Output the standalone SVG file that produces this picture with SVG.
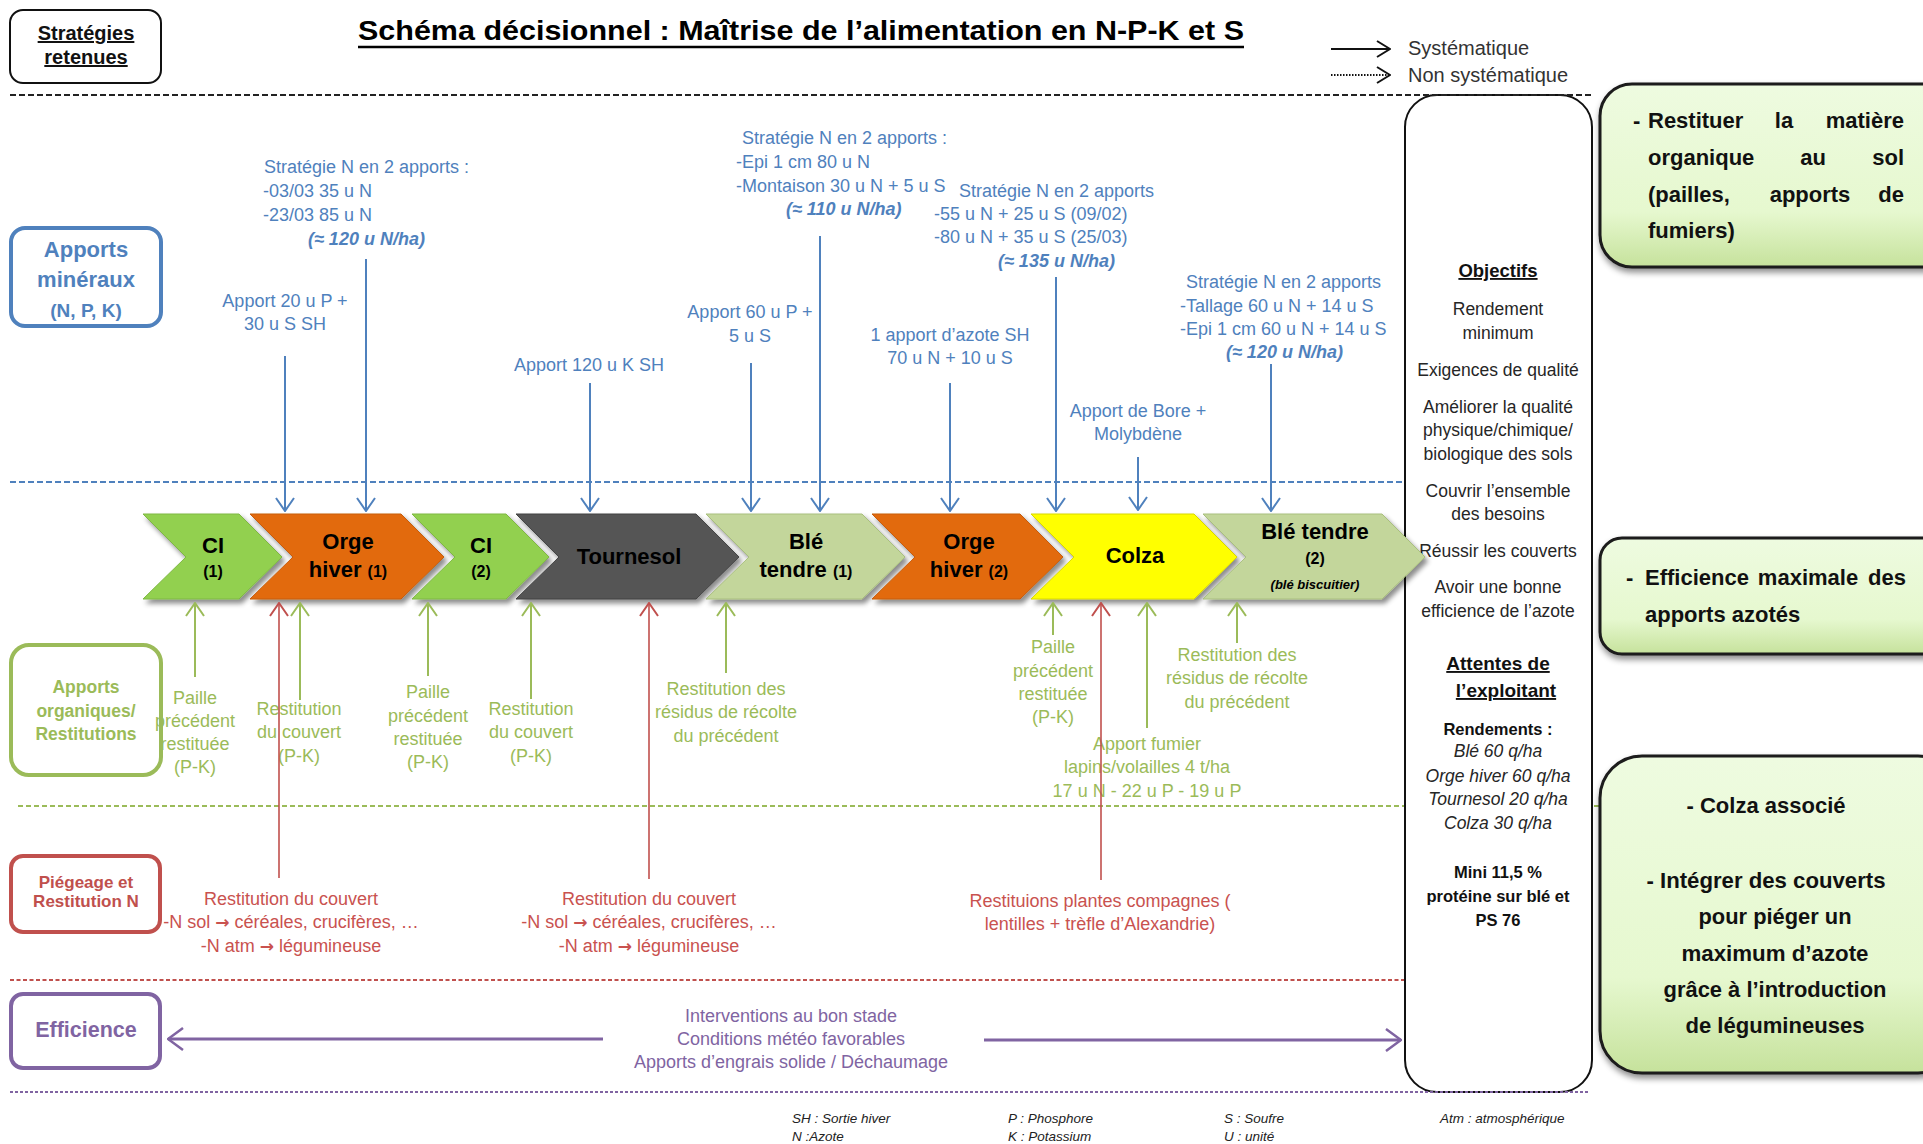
<svg xmlns="http://www.w3.org/2000/svg" width="1923" height="1144" viewBox="0 0 1923 1144">
<style>
  text { font-family: 'Liberation Sans', Arial, sans-serif; }
  .blue { fill:#4F81BD; font-size:18px; }
  .blueb { fill:#4F81BD; font-size:18px; font-weight:bold; font-style:italic; }
  .mid { text-anchor:middle; }
  .green { fill:#9BBB59; font-size:18px; text-anchor:middle; }
  .red { fill:#C9524F; font-size:18px; text-anchor:middle; }
  .arrowglyph { font-family:'DejaVu Sans', sans-serif; font-weight:bold; font-size:17px; }
  .purple { fill:#8064A2; font-size:18px; text-anchor:middle; }
  .obj { fill:#262626; font-size:17.5px; text-anchor:middle; }
  .objb { fill:#111; font-size:16.5px; font-weight:bold; text-anchor:middle; }
  .obji { fill:#262626; font-size:17.5px; font-style:italic; text-anchor:middle; }
  .head { fill:#111; font-weight:bold; text-anchor:middle; text-decoration:underline; }
  .chev { font-size:22px; font-weight:bold; text-anchor:middle; fill:#000; }
  .chevs { font-size:16px; }
  .chevi { font-size:13px; font-style:italic; }
  .cat { font-weight:bold; text-anchor:middle; }
  .gbox { font-size:22px; font-weight:bold; fill:#111; }
  .note { font-size:13.5px; font-style:italic; fill:#222; }
  .legend { font-size:20px; fill:#333; }
  .dash { fill:none; stroke-width:2; }
  .arB { stroke:#4F81BD; stroke-width:2; fill:none; marker-end:url(#ahBlue); }
  .arG { stroke:#9BBB59; stroke-width:2; fill:none; marker-end:url(#ahGreen); }
  .arR { stroke:#C0504D; stroke-width:1.6; fill:none; marker-end:url(#ahRed); }
  .arP { stroke:#8064A2; stroke-width:3; fill:none; marker-end:url(#ahPurple); }
  .catbox { fill:#fff; stroke-width:4; }
  .greenbox { fill:url(#gGreen); stroke:#1a1a1a; stroke-width:3; filter:url(#boxShadow); }
  .shape { filter:url(#chevShadow); }
</style>
<defs>
  <filter id="chevShadow" x="-10%" y="-15%" width="125%" height="145%">
    <feDropShadow dx="3" dy="4" stdDeviation="2.5" flood-color="#000" flood-opacity="0.45"/>
  </filter>
  <filter id="boxShadow" x="-10%" y="-10%" width="125%" height="130%">
    <feDropShadow dx="1" dy="4" stdDeviation="3" flood-color="#000" flood-opacity="0.45"/>
  </filter>
  <linearGradient id="gGreen" x1="0" y1="0" x2="0" y2="1">
    <stop offset="0" stop-color="#eefbe0"/>
    <stop offset="0.7" stop-color="#e6f8cf"/>
    <stop offset="1" stop-color="#c6e29c"/>
  </linearGradient>
  <marker id="ahBlue" viewBox="0 0 15 20" refX="14" refY="10" markerWidth="15" markerHeight="20" orient="auto" markerUnits="userSpaceOnUse">
    <path d="M1,1 L14,10 L1,19" fill="none" stroke="#4F81BD" stroke-width="2"/>
  </marker>
  <marker id="ahGreen" viewBox="0 0 15 20" refX="14" refY="10" markerWidth="15" markerHeight="20" orient="auto" markerUnits="userSpaceOnUse">
    <path d="M1,1 L14,10 L1,19" fill="none" stroke="#9BBB59" stroke-width="2"/>
  </marker>
  <marker id="ahRed" viewBox="0 0 15 20" refX="14" refY="10" markerWidth="15" markerHeight="20" orient="auto" markerUnits="userSpaceOnUse">
    <path d="M1,1 L14,10 L1,19" fill="none" stroke="#C0504D" stroke-width="2"/>
  </marker>
  <marker id="ahPurple" viewBox="0 0 17 24" refX="16" refY="12" markerWidth="17" markerHeight="24" orient="auto" markerUnits="userSpaceOnUse">
    <path d="M1,1 L16,12 L1,23" fill="none" stroke="#8064A2" stroke-width="2.5"/>
  </marker>
  <marker id="ahBlack" viewBox="0 0 15 18" refX="14" refY="9" markerWidth="15" markerHeight="18" orient="auto" markerUnits="userSpaceOnUse">
    <path d="M1,1 L14,9 L1,17" fill="none" stroke="#111" stroke-width="2"/>
  </marker>
</defs>

<rect width="1923" height="1144" fill="#fff"/>

<!-- band separators -->
<g id="separators">
  <line class="dash" x1="10" y1="482" x2="1405" y2="482" stroke="#4F81BD" stroke-dasharray="6 3"/>
  <line class="dash" x1="18" y1="806" x2="1600" y2="806" stroke="#9BBB59" stroke-dasharray="5 3"/>
  <line class="dash" x1="10" y1="980" x2="1405" y2="980" stroke="#C0504D" stroke-dasharray="4 2.5"/>
</g>

<!-- header -->
<g id="header">
  <g id="strategies">
    <rect x="10" y="10" width="151" height="73" rx="13" fill="#fff" stroke="#111" stroke-width="2"/>
    <text class="head" x="86" y="40" font-size="20">Stratégies</text>
    <text class="head" x="86" y="64" font-size="20">retenues</text>
  </g>
  <g id="title">
    <text x="358" y="40" font-size="28" font-weight="bold" fill="#000" textLength="886" lengthAdjust="spacingAndGlyphs">Schéma décisionnel : Maîtrise de l’alimentation en N-P-K et S</text>
    <line x1="358" y1="47" x2="1244" y2="47" stroke="#000" stroke-width="2.5"/>
  </g>
  <g id="legend">
    <line x1="1331" y1="49" x2="1390" y2="49" stroke="#111" stroke-width="2" marker-end="url(#ahBlack)"/>
    <line x1="1331" y1="75" x2="1390" y2="75" stroke="#111" stroke-width="2" stroke-dasharray="1.5 1.5" marker-end="url(#ahBlack)"/>
    <text class="legend" x="1408" y="55">Systématique</text>
    <text class="legend" x="1408" y="82">Non systématique</text>
  </g>
</g>

<!-- category boxes -->
<g id="cat-mineraux">
  <rect class="catbox" x="11" y="228" width="150" height="98" rx="14" stroke="#4F81BD"/>
  <text class="cat" x="86" y="257" font-size="22" fill="#4F81BD">Apports</text>
  <text class="cat" x="86" y="287" font-size="22" fill="#4F81BD">minéraux</text>
  <text class="cat" x="86" y="317" font-size="19" fill="#4F81BD">(N, P, K)</text>
</g>
<g id="cat-organiques">
  <rect class="catbox" x="11" y="645" width="150" height="130" rx="18" stroke="#9BBB59" stroke-width="4.5"/>
  <text class="cat" x="86" y="693" font-size="17.5" fill="#9BBB59">Apports</text>
  <text class="cat" x="86" y="717" font-size="17.5" fill="#9BBB59">organiques/</text>
  <text class="cat" x="86" y="740" font-size="17.5" fill="#9BBB59">Restitutions</text>
</g>
<g id="cat-piegeage">
  <rect class="catbox" x="11" y="856" width="149" height="76" rx="12" stroke="#C0504D"/>
  <text class="cat" x="86" y="888" font-size="17" fill="#C0504D">Piégeage et</text>
  <text class="cat" x="86" y="907" font-size="17" fill="#C0504D">Restitution N</text>
</g>
<g id="cat-efficience">
  <rect class="catbox" x="11" y="994" width="149" height="74" rx="12" stroke="#8064A2"/>
  <text class="cat" x="86" y="1037" font-size="21.5" fill="#8064A2">Efficience</text>
</g>

<!-- objectives column -->
<g id="objectifs">
  <rect x="1405" y="95" width="187" height="997" rx="32" fill="#fff" stroke="#111" stroke-width="2"/>
  <text class="head" x="1498" y="277" font-size="18.5">Objectifs</text>
  <text class="obj" x="1498" y="315">Rendement</text>
  <text class="obj" x="1498" y="339">minimum</text>
  <text class="obj" x="1498" y="376">Exigences de qualité</text>
  <text class="obj" x="1498" y="413">Améliorer la qualité</text>
  <text class="obj" x="1498" y="436">physique/chimique/</text>
  <text class="obj" x="1498" y="460">biologique des sols</text>
  <text class="obj" x="1498" y="497">Couvrir l’ensemble</text>
  <text class="obj" x="1498" y="520">des besoins</text>
  <text class="obj" x="1498" y="557">Réussir les couverts</text>
  <text class="obj" x="1498" y="593">Avoir une bonne</text>
  <text class="obj" x="1498" y="617">efficience de l’azote</text>
  <text class="head" x="1498" y="670" font-size="19">Attentes de</text>
  <text class="head" x="1506" y="697" font-size="19">l’exploitant</text>
  <text class="objb" x="1498" y="735">Rendements :</text>
  <text class="obji" x="1498" y="757">Blé 60 q/ha</text>
  <text class="obji" x="1498" y="782">Orge hiver 60 q/ha</text>
  <text class="obji" x="1498" y="805">Tournesol 20 q/ha</text>
  <text class="obji" x="1498" y="829">Colza 30 q/ha</text>
  <text class="objb" x="1498" y="878">Mini 11,5 %</text>
  <text class="objb" x="1498" y="902">protéine sur blé et</text>
  <text class="objb" x="1498" y="926">PS 76</text>
</g>

<g id="separators-top">
  <line class="dash" x1="10" y1="95" x2="1593" y2="95" stroke="#222" stroke-dasharray="6 3" stroke-width="1.8"/>
  <line class="dash" x1="10" y1="1092" x2="1590" y2="1092" stroke="#8064A2" stroke-dasharray="3 2" stroke-width="2.5"/>
</g>

<!-- strategy boxes -->
<g id="strat-matiere-organique">
  <rect class="greenbox" x="1600" y="84" width="360" height="183" rx="32"/>
  <text class="gbox" x="1633" y="128">-</text>
  <text class="gbox" x="1648" y="128">Restituer</text>
  <text class="gbox" x="1784" y="128" text-anchor="middle">la</text>
  <text class="gbox" x="1904" y="128" text-anchor="end">matière</text>
  <text class="gbox" x="1648" y="165">organique</text>
  <text class="gbox" x="1813" y="165" text-anchor="middle">au</text>
  <text class="gbox" x="1904" y="165" text-anchor="end">sol</text>
  <text class="gbox" x="1648" y="202">(pailles,</text>
  <text class="gbox" x="1810" y="202" text-anchor="middle">apports</text>
  <text class="gbox" x="1904" y="202" text-anchor="end">de</text>
  <text class="gbox" x="1648" y="238">fumiers)</text>
</g>
<g id="strat-efficience">
  <rect class="greenbox" x="1600" y="538" width="360" height="116" rx="22"/>
  <text class="gbox" x="1626" y="585">-</text>
  <text class="gbox" x="1645" y="585">Efficience</text>
  <text class="gbox" x="1808" y="585" text-anchor="middle">maximale</text>
  <text class="gbox" x="1906" y="585" text-anchor="end">des</text>
  <text class="gbox" x="1645" y="622">apports azotés</text>
</g>
<g id="strat-couverts">
  <rect class="greenbox" x="1600" y="756" width="360" height="317" rx="42"/>
  <text class="gbox" x="1766" y="813" text-anchor="middle" textLength="159" lengthAdjust="spacingAndGlyphs">- Colza associé</text>
  <text class="gbox" x="1766" y="888" text-anchor="middle" textLength="239" lengthAdjust="spacingAndGlyphs">- Intégrer des couverts</text>
  <text class="gbox" x="1775" y="924" text-anchor="middle" textLength="153" lengthAdjust="spacingAndGlyphs">pour piéger un</text>
  <text class="gbox" x="1775" y="961" text-anchor="middle" textLength="187" lengthAdjust="spacingAndGlyphs">maximum d’azote</text>
  <text class="gbox" x="1775" y="997" text-anchor="middle" textLength="223" lengthAdjust="spacingAndGlyphs">grâce à l’introduction</text>
  <text class="gbox" x="1775" y="1033" text-anchor="middle" textLength="179" lengthAdjust="spacingAndGlyphs">de légumineuses</text>
</g>

<!-- crop sequence -->
<g id="ci-1">
  <polygon class="shape" points="143,514 239,514 282,557 239,599 143,599 186,557" fill="#92D050" stroke="#7fb843" stroke-width="1"/>
  <text class="chev" x="213" y="553">CI</text>
  <text class="chev chevs" x="213" y="577">(1)</text>
</g>
<g id="orge-hiver-1">
  <polygon class="shape" points="250,514 401,514 444,557 401,599 250,599 293,557" fill="#E26B0A" stroke="#c75d08" stroke-width="1"/>
  <text class="chev" x="348" y="549">Orge</text>
  <text class="chev" x="348" y="577">hiver <tspan class="chevs">(1)</tspan></text>
</g>
<g id="ci-2">
  <polygon class="shape" points="412,514 506,514 549,557 506,599 412,599 455,557" fill="#92D050" stroke="#7fb843" stroke-width="1"/>
  <text class="chev" x="481" y="553">CI</text>
  <text class="chev chevs" x="481" y="577">(2)</text>
</g>
<g id="tournesol">
  <polygon class="shape" points="516,514 696,514 739,557 696,599 516,599 559,557" fill="#555555" stroke="#444" stroke-width="1"/>
  <text class="chev" x="629" y="564">Tournesol</text>
</g>
<g id="ble-tendre-1">
  <polygon class="shape" points="706,514 862,514 905,557 862,599 706,599 749,557" fill="#C3D69B" stroke="#a9bf7e" stroke-width="1"/>
  <text class="chev" x="806" y="549">Blé</text>
  <text class="chev" x="806" y="577">tendre <tspan class="chevs">(1)</tspan></text>
</g>
<g id="orge-hiver-2">
  <polygon class="shape" points="872,514 1020,514 1063,557 1020,599 872,599 915,557" fill="#E26B0A" stroke="#c75d08" stroke-width="1"/>
  <text class="chev" x="969" y="549">Orge</text>
  <text class="chev" x="969" y="577">hiver <tspan class="chevs">(2)</tspan></text>
</g>
<g id="colza">
  <polygon class="shape" points="1031,514 1194,514 1237,557 1194,599 1031,599 1074,557" fill="#FFFF00" stroke="#d8d800" stroke-width="1"/>
  <text class="chev" x="1135" y="563">Colza</text>
</g>
<g id="ble-tendre-2">
  <polygon class="shape" points="1203,514 1382,514 1425,557 1382,599 1203,599 1246,557" fill="#C3D69B" stroke="#a9bf7e" stroke-width="1"/>
  <text class="chev" x="1315" y="539">Blé tendre</text>
  <text class="chev chevs" x="1315" y="564">(2)</text>
  <text class="chev chevi" x="1315" y="589">(blé biscuitier)</text>
</g>

<!-- mineral inputs -->
<g id="apports-mineraux">
  <text class="blue" x="264" y="173">Stratégie N en 2 apports :</text>
  <text class="blue" x="263" y="197">-03/03 35 u N</text>
  <text class="blue" x="263" y="221">-23/03 85 u N</text>
  <text class="blueb" x="308" y="245">(≈ 120 u N/ha)</text>

  <text class="blue mid" x="285" y="307">Apport 20 u P +</text>
  <text class="blue mid" x="285" y="330">30 u S SH</text>

  <text class="blue mid" x="589" y="371">Apport 120 u K SH</text>

  <text class="blue mid" x="750" y="318">Apport 60 u P +</text>
  <text class="blue mid" x="750" y="342">5 u S</text>

  <text class="blue" x="742" y="144">Stratégie N en 2 apports :</text>
  <text class="blue" x="736" y="168">-Epi 1 cm 80 u N</text>
  <text class="blue" x="736" y="192">-Montaison 30 u N + 5 u S</text>
  <text class="blueb" x="786" y="215">(≈ 110 u N/ha)</text>

  <text class="blue" x="959" y="197">Stratégie N en 2 apports</text>
  <text class="blue" x="934" y="220">-55 u N + 25 u S (09/02)</text>
  <text class="blue" x="934" y="243">-80 u N + 35 u S (25/03)</text>
  <text class="blueb" x="998" y="267">(≈ 135 u N/ha)</text>

  <text class="blue mid" x="950" y="341">1 apport d’azote SH</text>
  <text class="blue mid" x="950" y="364">70 u N + 10 u S</text>

  <text class="blue mid" x="1138" y="417">Apport de Bore +</text>
  <text class="blue mid" x="1138" y="440">Molybdène</text>

  <text class="blue" x="1186" y="288">Stratégie N en 2 apports</text>
  <text class="blue" x="1180" y="312">-Tallage 60 u N + 14 u S</text>
  <text class="blue" x="1180" y="335">-Epi 1 cm 60 u N + 14 u S</text>
  <text class="blueb" x="1226" y="358">(≈ 120 u N/ha)</text>
</g>

<!-- organic inputs / returns -->
<g id="apports-organiques">
  <text class="green" x="195" y="704">Paille</text>
  <text class="green" x="195" y="727">précédent</text>
  <text class="green" x="195" y="750">restituée</text>
  <text class="green" x="195" y="773">(P-K)</text>

  <text class="green" x="299" y="715">Restitution</text>
  <text class="green" x="299" y="738">du couvert</text>
  <text class="green" x="299" y="762">(P-K)</text>

  <text class="green" x="428" y="698">Paille</text>
  <text class="green" x="428" y="722">précédent</text>
  <text class="green" x="428" y="745">restituée</text>
  <text class="green" x="428" y="768">(P-K)</text>

  <text class="green" x="531" y="715">Restitution</text>
  <text class="green" x="531" y="738">du couvert</text>
  <text class="green" x="531" y="762">(P-K)</text>

  <text class="green" x="726" y="695">Restitution des</text>
  <text class="green" x="726" y="718">résidus de récolte</text>
  <text class="green" x="726" y="742">du précédent</text>

  <text class="green" x="1053" y="653">Paille</text>
  <text class="green" x="1053" y="677">précédent</text>
  <text class="green" x="1053" y="700">restituée</text>
  <text class="green" x="1053" y="723">(P-K)</text>

  <text class="green" x="1147" y="750">Apport fumier</text>
  <text class="green" x="1147" y="773">lapins/volailles 4 t/ha</text>
  <text class="green" x="1147" y="797">17 u N - 22 u P - 19 u P</text>

  <text class="green" x="1237" y="661">Restitution des</text>
  <text class="green" x="1237" y="684">résidus de récolte</text>
  <text class="green" x="1237" y="708">du précédent</text>
</g>

<!-- nitrogen trapping -->
<g id="piegeage">
  <text class="red" x="291" y="905">Restitution du couvert</text>
  <text class="red" x="291" y="928">-N sol <tspan class="arrowglyph">→</tspan> céréales, crucifères, …</text>
  <text class="red" x="291" y="952">-N atm <tspan class="arrowglyph">→</tspan> légumineuse</text>

  <text class="red" x="649" y="905">Restitution du couvert</text>
  <text class="red" x="649" y="928">-N sol <tspan class="arrowglyph">→</tspan> céréales, crucifères, …</text>
  <text class="red" x="649" y="952">-N atm <tspan class="arrowglyph">→</tspan> légumineuse</text>

  <text class="red" x="1100" y="907">Restituions plantes compagnes (</text>
  <text class="red" x="1100" y="930">lentilles + trèfle d’Alexandrie)</text>
</g>

<!-- efficiency -->
<g id="efficience">
  <text class="purple" x="791" y="1022">Interventions au bon stade</text>
  <text class="purple" x="791" y="1045">Conditions météo favorables</text>
  <text class="purple" x="791" y="1068">Apports d’engrais solide / Déchaumage</text>
</g>

<!-- abbreviations -->
<g id="abreviations">
  <text class="note" x="792" y="1123">SH : Sortie hiver</text>
  <text class="note" x="792" y="1141">N :Azote</text>
  <text class="note" x="1008" y="1123">P : Phosphore</text>
  <text class="note" x="1008" y="1141">K : Potassium</text>
  <text class="note" x="1224" y="1123">S : Soufre</text>
  <text class="note" x="1224" y="1141">U : unité</text>
  <text class="note" x="1440" y="1123">Atm : atmosphérique</text>
</g>

<!-- connectors -->
<g id="connectors">
  <line class="arB" x1="285" y1="356" x2="285" y2="511"/>
  <line class="arB" x1="366" y1="259" x2="366" y2="511"/>
  <line class="arB" x1="590" y1="383" x2="590" y2="511"/>
  <line class="arB" x1="751" y1="363" x2="751" y2="511"/>
  <line class="arB" x1="820" y1="236" x2="820" y2="511"/>
  <line class="arB" x1="950" y1="383" x2="950" y2="511"/>
  <line class="arB" x1="1056" y1="277" x2="1056" y2="511"/>
  <line class="arB" x1="1138" y1="457" x2="1138" y2="510"/>
  <line class="arB" x1="1271" y1="364" x2="1271" y2="511"/>

  <line class="arG" x1="195" y1="677" x2="195" y2="603"/>
  <line class="arG" x1="300" y1="700" x2="300" y2="603"/>
  <line class="arG" x1="428" y1="676" x2="428" y2="603"/>
  <line class="arG" x1="531" y1="699" x2="531" y2="603"/>
  <line class="arG" x1="726" y1="673" x2="726" y2="603"/>
  <line class="arG" x1="1053" y1="635" x2="1053" y2="603"/>
  <line class="arG" x1="1147" y1="728" x2="1147" y2="603"/>
  <line class="arG" x1="1237" y1="643" x2="1237" y2="603"/>

  <line class="arR" x1="279" y1="878" x2="279" y2="603"/>
  <line class="arR" x1="649" y1="879" x2="649" y2="603"/>
  <line class="arR" x1="1101" y1="880" x2="1101" y2="603"/>

  <line class="arP" x1="603" y1="1039" x2="168" y2="1039"/>
  <line class="arP" x1="984" y1="1040" x2="1401" y2="1040"/>
</g>
</svg>
